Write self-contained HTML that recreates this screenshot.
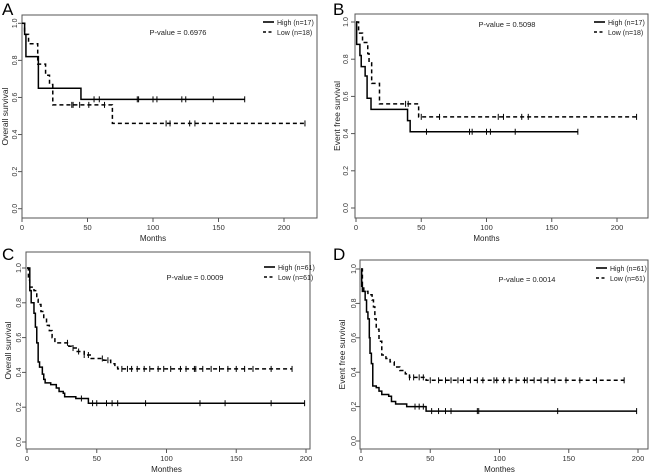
<!DOCTYPE html>
<html><head><meta charset="utf-8"><style>
body{margin:0;background:#fff;}
svg{display:block;font-family:"Liberation Sans",sans-serif;}
</style></head><body>
<svg id="chart" width="650" height="475" viewBox="0 0 650 475"></svg>
<script>
// Panel A data
const aHighT=[0,2,3,12.5,45], aHighS=[1,0.94,0.82,0.65,0.59], aHighEnd=170;
const aHighCens=[55,59,88,89,100,103,122,125,146,170];
const aLowT=[0,2,5,12,18,21,23.5,69], aLowS=[1,0.94,0.89,0.78,0.72,0.67,0.56,0.46], aLowEnd=216;
const aLowCens=[38,39,44,51,63,110,113,128,132,216];
// Panel B data
const bHighT=[0,0.5,3,4,7,8.5,11.5,39.5,41.5], bHighS=[1,0.88,0.82,0.76,0.71,0.59,0.53,0.47,0.41], bHighEnd=170;
const bHighCens=[54,87,89,100,103,122,170];
const bLowT=[0,2,5,9,10,12,18,48], bLowS=[1,0.94,0.89,0.83,0.78,0.67,0.56,0.49], bLowEnd=215;
const bLowCens=[38,40,50,64,109,113,127,132,215];
// Panel C data
const cHighT=[0,2,3,5,6,7,8,9,11,12,13,17,21,23,26,27,35,44];
const cHighS=[1,0.87,0.80,0.74,0.66,0.57,0.46,0.43,0.39,0.36,0.34,0.33,0.31,0.29,0.28,0.26,0.25,0.223];
const cHighEnd=199, cHighCens=[39,47,50,57,61,65,85,124,142,175,199];
const cLowT=[0,1,2,5,7,8,10,12,14,16,18,20,30,32,36,41,46,55,60,63,65];
const cLowS=[1,0.93,0.89,0.87,0.82,0.79,0.75,0.71,0.67,0.64,0.60,0.57,0.55,0.54,0.52,0.50,0.48,0.47,0.45,0.43,0.42];
const cLowEnd=190, cLowCens=[29,33,37,41,44,54,58,68,72,75,79,84,88,94,98,103,110,114,120,121,126,132,138,144,150,156,162,175,190];
// Panel D data
const dHighT=[0,0.5,1,3,4,5,6,6.5,7.5,8.5,11,13,15,20,22,25,33,47];
const dHighS=[1,0.9,0.87,0.82,0.75,0.71,0.6,0.51,0.45,0.32,0.31,0.29,0.27,0.26,0.23,0.215,0.2,0.174];
const dHighEnd=199, dHighCens=[39,42,45,51,56,61,65,84,85,142,199];
const dLowT=[0,1,2,5,8,9,10,11,13,15,18,21,24,28,32,35,47];
const dLowS=[1,0.9,0.87,0.85,0.82,0.78,0.71,0.65,0.58,0.5,0.48,0.46,0.43,0.41,0.39,0.37,0.353];
const dLowEnd=190, dLowCens=[35,38,42,45,50,56,61,65,70,74,79,84,88,96,98,103,107,112,118,120,125,130,135,140,148,158,170,190];
const xTicks=[0,50,100,150,200];
const yTicks=[0,0.2,0.4,0.6,0.8,1.0];

const NS="http://www.w3.org/2000/svg";
const svg=document.getElementById('chart');
function mk(tag,attrs,parent){const e=document.createElementNS(NS,tag);for(const k in attrs)e.setAttribute(k,attrs[k]);(parent||svg).appendChild(e);return e;}

const panels=[
 {id:'a',letter:'A',lx:2,ly:15,box:[22,15,317,218],x0:22,x200:284,y1:23.3,y0:208.7,ylab:'Overall survival',ylx:8,tkx:17,xlab:'Months',xly:241,tickY:230,
  pv:'P-value = 0.6976',pvx:178,pvy:35,legX:263,legY:25,hn:'High (n=17)',ln:'Low (n=18)',
  hi:[aHighT,aHighS,aHighEnd,aHighCens],lo:[aLowT,aLowS,aLowEnd,aLowCens]},
 {id:'b',letter:'B',lx:333,ly:15,box:[355,14,648,218],x0:356,x200:617,y1:22,y0:208,ylab:'Event free survival',ylx:340,tkx:348,xlab:'Months',xly:241,tickY:230,
  pv:'P-value = 0.5098',pvx:507,pvy:27,legX:594,legY:25,hn:'High (n=17)',ln:'Low (n=18)',
  hi:[bHighT,bHighS,bHighEnd,bHighCens],lo:[bLowT,bLowS,bLowEnd,bLowCens]},
 {id:'c',letter:'C',lx:2,ly:260,box:[26,252,310,449],x0:27,x200:306,y1:268,y0:442,ylab:'Overall survival',ylx:11,tkx:21,xlab:'Monthes',xly:472,tickY:461,
  pv:'P-value = 0.0009',pvx:195,pvy:280,legX:264,legY:270,hn:'High (n=61)',ln:'Low (n=61)',
  hi:[cHighT,cHighS,cHighEnd,cHighCens],lo:[cLowT,cLowS,cLowEnd,cLowCens]},
 {id:'d',letter:'D',lx:333,ly:260,box:[360,260,648,449],x0:361,x200:638,y1:269,y0:441,ylab:'Event free survival',ylx:345,tkx:356,xlab:'Monthes',xly:472,tickY:461,
  pv:'P-value = 0.0014',pvx:527,pvy:282,legX:596,legY:271,hn:'High (n=61)',ln:'Low (n=61)',
  hi:[dHighT,dHighS,dHighEnd,dHighCens],lo:[dLowT,dLowS,dLowEnd,dLowCens]}
];

panels.forEach(p=>{
  const g=mk('g',{});
  
  
  const X=t=>p.x0+(p.x200-p.x0)*t/200;
  const Y=s=>p.y0+(p.y1-p.y0)*s;
  const L=mk('text',{x:p.lx,y:p.ly,'font-size':17,fill:'#000'},g);L.textContent=p.letter;
  
  
  const [bx1,by1,bx2,by2]=p.box;
  const box=mk('rect',{x:bx1,y:by1,width:bx2-bx1,height:by2-by1,fill:'none',stroke:'#555','stroke-width':1},g);
  
  
  xTicks.forEach(t=>{
    mk('line',{x1:X(t),x2:X(t),y1:by2,y2:by2+4,stroke:'#555'},g);
    const tx=mk('text',{x:X(t),y:p.tickY,'font-size':7.5,'text-anchor':'middle',fill:'#333'},g);tx.textContent=t;
    
    
  });
  yTicks.forEach(t=>{
    mk('line',{x1:bx1-4,x2:bx1,y1:Y(t),y2:Y(t),stroke:'#555'},g);
    const ty=mk('text',{x:0,y:0,'font-size':7,'text-anchor':'middle',fill:'#333',transform:`translate(${p.tkx},${Y(t)}) rotate(-90)`},g);ty.textContent=t.toFixed(1);
    
    
  });
  const xt=mk('text',{x:(p.x0+p.x200)/2,y:p.xly,'font-size':8,'text-anchor':'middle',fill:'#222'},g);xt.textContent=p.xlab;
  
  
  const ym=(by1+by2)/2;
  const yt=mk('text',{x:0,y:0,'font-size':8.5,'text-anchor':'middle',fill:'#222',transform:`translate(${p.ylx},${ym}) rotate(-90)`},g);yt.textContent=p.ylab;
  
  
  const pv=mk('text',{x:p.pvx,y:p.pvy,'font-size':7.5,'text-anchor':'middle',fill:'#222'},g);pv.textContent=p.pv;
  
  
  [[p.hn,'none',0],[p.ln,'3,2.5',10]].forEach(([txt,dash,dy])=>{
    const ln=mk('line',{x1:p.legX,x2:p.legX+11,y1:p.legY+dy-3,y2:p.legY+dy-3,stroke:'#000','stroke-width':1.6,'stroke-dasharray':dash},g);
    
    
    const lt=mk('text',{x:p.legX+14,y:p.legY+dy,'font-size':7,fill:'#222'},g);lt.textContent=txt;
    
    
  });
  [[p.hi,'none','high'],[p.lo,'4,3','low']].forEach(([s,dash,nm])=>{
    const [T,S,end,C]=s;
    let d=`M${X(T[0])},${Y(S[0])}`;
    for(let i=1;i<T.length;i++){d+=` H${X(T[i])} V${Y(S[i])}`;}
    d+=` H${X(end)}`;
    const path=mk('path',{d:d,fill:'none',stroke:'#000','stroke-width':1.5,'stroke-dasharray':dash},g);
    
    
    C.forEach(c=>{
      let sv=S[0];for(let i=0;i<T.length;i++){if(T[i]<=c)sv=S[i];}
      const cm=mk('line',{x1:X(c),x2:X(c),y1:Y(sv)-3,y2:Y(sv)+3,stroke:'#000','stroke-width':1},g);
      
      
    });
  });
});
</script>
</body></html>
